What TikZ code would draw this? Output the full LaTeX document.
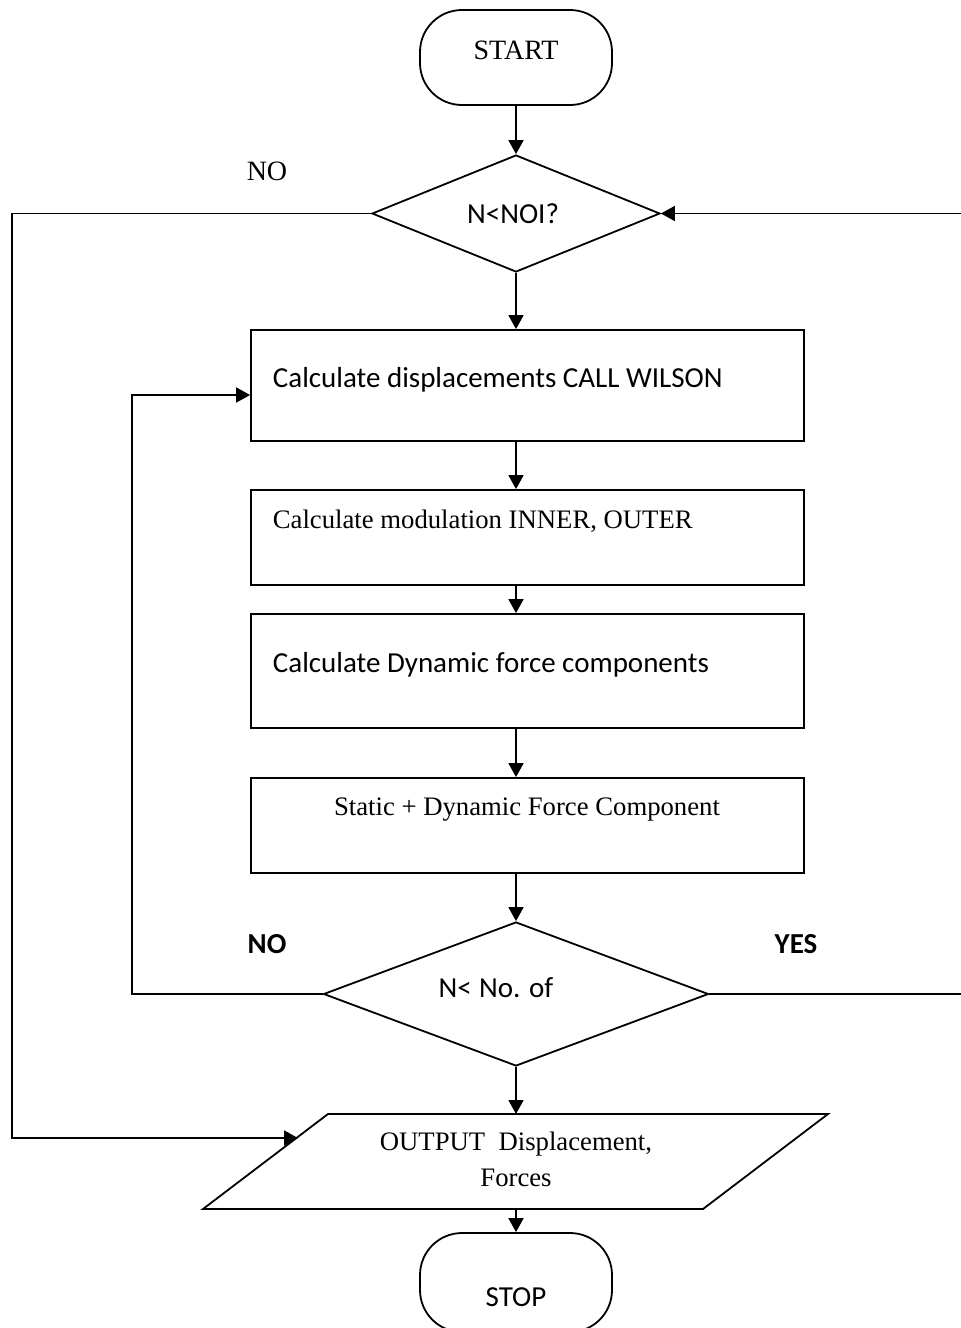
\documentclass[tikz,border=0pt]{standalone}
\usepackage{fontspec}
\setmainfont{Liberation Serif}
\newfontfamily\calfont{Carlito}
\usetikzlibrary{arrows.meta,shapes.geometric}
\begin{document}
\begin{tikzpicture}[x=1pt,y=-1pt,line width=1.8pt,
  >={Triangle[length=14pt,width=15pt]},
  term/.style={draw,fill=white,rectangle,rounded corners=42pt,minimum width=192pt,inner sep=0pt},
  procbox/.style={draw,fill=white,rectangle,minimum width=553pt,inner sep=0pt},
  decision/.style={draw,fill=white,diamond,inner sep=0pt},
  tser/.style={font=\fontsize{26.7}{30}\selectfont,inner sep=0pt},
  tserbig/.style={font=\fontsize{28}{30}\selectfont,inner sep=0pt},
  tcal/.style={font=\calfont\fontsize{29}{32}\selectfont,inner sep=0pt},
  tcalb/.style={font=\calfont\bfseries\fontsize{29}{32}\selectfont,inner sep=0pt}]
\useasboundingbox (0,0) rectangle (961,1328);
% shapes
\node[term,minimum height=95pt] (start) at (516,57.5) {};
\node[decision,minimum width=288pt,minimum height=117pt] (d1) at (516,213.5) {};
\node[procbox,minimum height=111pt] (b1) at (527.5,385.5) {};
\node[procbox,minimum height=95pt] (b2) at (527.5,537.5) {};
\node[procbox,minimum height=114pt] (b3) at (527.5,671) {};
\node[procbox,minimum height=95pt] (b4) at (527.5,825.5) {};
\node[decision,minimum width=385pt,minimum height=144pt] (d2) at (516,994) {};
\coordinate (ptl) at (328,1114);
\coordinate (ptr) at (828,1114);
\coordinate (pbr) at (703,1209);
\coordinate (pbl) at (203,1209);
\draw[fill=white] (ptl) -- (ptr) -- (pbr) -- (pbl) -- cycle;
\coordinate (ptop) at (516,1114);
\coordinate (pbot) at (516,1209);
\coordinate (pin) at (298,1138);
\node[term,minimum height=99pt] (stop) at (516,1282.5) {};
% texts
\node[tserbig,anchor=base] (tstart) at (516,59) {START};
\node[tserbig,anchor=base] (tno1) at (267,180) {NO};
\node[tcal,anchor=base] (td1) at (513,223) {N<NOI?};
\node[tcal,anchor=base west] (tb1) at (272,387) {Calculate displacements CALL WILSON};
\node[tser,anchor=base west] (tb2) at (272,528) {Calculate modulation INNER, OUTER};
\node[tcal,anchor=base west] (tb3) at (272,672) {Calculate Dynamic force components};
\node[tser,anchor=base] (tb4) at (527,815) {Static + Dynamic Force Component};
\node[tcalb,anchor=base] (tno2) at (267,953) {NO};
\node[tcalb,anchor=base] (tyes) at (796,953) {YES};
\node[tcal,anchor=base] (td2) at (496,997) {N<\hspace{0.25em}No. of};
\node[tser,anchor=base] (tout1) at (516,1150) {OUTPUT\ \ Displacement,};
\node[tser,anchor=base] (tout2) at (516,1186) {Forces};
\node[tcal,anchor=base] (tstop) at (516,1306) {STOP};
% connectors
\draw[->] (start.south) -- (d1.north);
\draw[->] (d1.south) -- (start |- b1.north);
\draw[->] (start |- b1.south) -- (start |- b2.north);
\draw[->] (start |- b2.south) -- (start |- b3.north);
\draw[->] (start |- b3.south) -- (start |- b4.north);
\draw[->] (start |- b4.south) -- (d2.north);
\draw[->] (d2.south) -- (ptop);
\draw[->] (pbot) -- (stop.north);
\coordinate (l1) at (12,213.5);
\coordinate (l2) at (12,1138);
\draw[->] (d1.west) -- (l1) -- (l2) -- (pin);
\coordinate (l3) at (132,994);
\coordinate (l4) at (132,395);
\draw[->] (d2.west) -- (l3) -- (l4) -- (l4 -| b1.west);
\coordinate (r1) at (966,994);
\coordinate (r2) at (966,213.5);
\draw[->] (d2.east) -- (r1) -- (r2) -- (d1.east);
\end{tikzpicture}
\end{document}
